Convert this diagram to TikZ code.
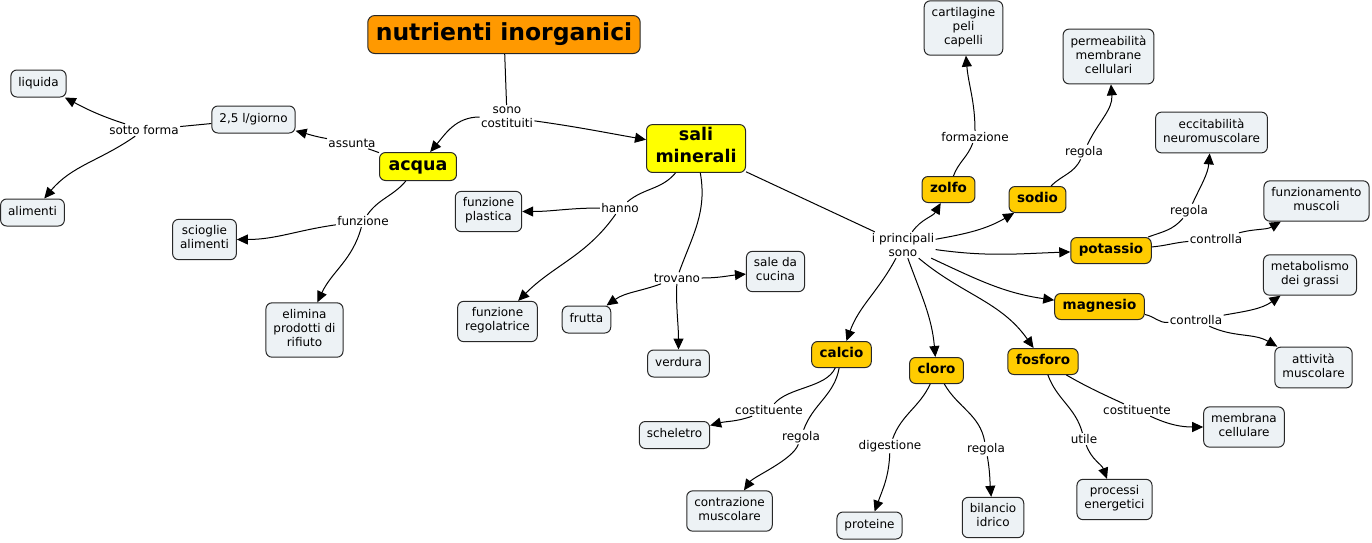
\documentclass[tikz,border=0pt]{standalone}
\usepackage{fontspec}
\setmainfont{DejaVu Sans}
\usetikzlibrary{arrows.meta}
\definecolor{titleColor}{RGB}{255,153,0}
\definecolor{mainColor}{RGB}{255,255,0}
\definecolor{elementColor}{RGB}{255,204,0}
\definecolor{conceptColor}{RGB}{237,242,245}
\definecolor{borderColor}{RGB}{40,40,40}
\tikzstyle{mapStyle} = [x = 1pt, y = 1pt, line width = 1pt]
\tikzstyle{boxStyle} = [draw=borderColor, line width=1pt, align=center, execute at begin node=\strut, execute at end node=\strut]
\tikzstyle{titleStyle} = [boxStyle, fill=titleColor, rounded corners=7pt, font=\fontsize{23.5}{28}\selectfont\bfseries, inner xsep=8pt, inner ysep=5pt]
\tikzstyle{mainStyle} = [boxStyle, fill=mainColor, rounded corners=6pt, font=\fontsize{17.5}{22}\selectfont\bfseries, inner xsep=9pt, inner ysep=3pt]
\tikzstyle{elementStyle} = [boxStyle, fill=elementColor, rounded corners=6pt, font=\fontsize{13.5}{15}\selectfont\bfseries, inner xsep=8pt, inner ysep=5.5pt]
\tikzstyle{conceptStyle} = [boxStyle, fill=conceptColor, rounded corners=6pt, font=\fontsize{12}{14}\selectfont, inner xsep=7.5pt, inner ysep=6.5pt]
\tikzstyle{linkText} = [align=center, font=\fontsize{12}{14}\selectfont, inner sep=1pt]
\tikzstyle{linkLine} = [draw=black, line width=1pt]
\tikzstyle{linkArrow} = [linkLine, -{Triangle[length=11pt, width=10pt]}]
\begin{document}
\begin{tikzpicture}[mapStyle]
    \useasboundingbox (0,0) rectangle (1372,-542);
    % concepts
    \node [titleStyle] (nutrienti) at (504,-34.5) {nutrienti inorganici};
    \node [mainStyle] (acqua) at (418,-166.5) {acqua};
    \node [mainStyle] (sali) at (696,-148.5) {sali\\minerali};
    \node [conceptStyle] (liquida) at (38.5,-83.5) {liquida};
    \node [conceptStyle] (giorno) at (253.5,-119.5) {2,5 l/giorno};
    \node [conceptStyle] (alimenti) at (32.5,-212.5) {alimenti};
    \node [conceptStyle] (scioglie) at (204.5,-239.5) {scioglie\\alimenti};
    \node [conceptStyle] (elimina) at (304.5,-330) {elimina\\prodotti di\\rifiuto};
    \node [conceptStyle] (plastica) at (488.5,-211.5) {funzione\\plastica};
    \node [conceptStyle] (regolatrice) at (497.5,-321.5) {funzione\\regolatrice};
    \node [conceptStyle] (frutta) at (586.5,-319.5) {frutta};
    \node [conceptStyle] (saleCucina) at (775.5,-271.5) {sale da\\cucina};
    \node [conceptStyle] (verdura) at (678.5,-363.5) {verdura};
    \node [conceptStyle] (cartilagine) at (963.5,-28) {cartilagine\\peli\\capelli};
    \node [conceptStyle] (permeabilita) at (1108.5,-56.5) {permeabilità\\membrane\\cellulari};
    \node [conceptStyle] (eccitabilita) at (1211.5,-132.5) {eccitabilità\\neuromuscolare};
    \node [conceptStyle] (funzionamento) at (1316.5,-201) {funzionamento\\muscoli};
    \node [conceptStyle] (metabolismo) at (1310,-275) {metabolismo\\dei grassi};
    \node [conceptStyle] (attivita) at (1313.5,-367.5) {attività\\muscolare};
    \node [conceptStyle] (scheletro) at (674.5,-435) {scheletro};
    \node [conceptStyle] (contrazione) at (729.5,-511) {contrazione\\muscolare};
    \node [conceptStyle] (proteine) at (869.5,-525.5) {proteine};
    \node [conceptStyle] (bilancio) at (993,-517.5) {bilancio\\idrico};
    \node [conceptStyle] (processi) at (1114.5,-499.5) {processi\\energetici};
    \node [conceptStyle] (membrana) at (1244,-427) {membrana\\cellulare};
    % elements
    \node [elementStyle] (zolfo) at (948.5,-189.5) {zolfo};
    \node [elementStyle] (sodio) at (1037.5,-199.5) {sodio};
    \node [elementStyle] (potassio) at (1111,-250.5) {potassio};
    \node [elementStyle] (magnesio) at (1099.5,-306.5) {magnesio};
    \node [elementStyle] (calcio) at (841.5,-354.5) {calcio};
    \node [elementStyle] (cloro) at (936.5,-370.5) {cloro};
    \node [elementStyle] (fosforo) at (1043,-361.5) {fosforo};
    % link labels
    \node [linkText] (sonoCostituiti) at (507,-117) {sono\\costituiti};
    \node [linkText] (assunta) at (352,-143) {assunta};
    \node [linkText] (sottoForma) at (144,-130) {sotto forma};
    \node [linkText] (funzioneAcqua) at (363,-221) {funzione};
    \node [linkText] (hanno) at (620,-208) {hanno};
    \node [linkText] (trovano) at (677,-278) {trovano};
    \node [linkText] (principali) at (903,-245) {i principali\\sono};
    \node [linkText] (formazione) at (975,-137) {formazione};
    \node [linkText] (regolaSodio) at (1084,-152) {regola};
    \node [linkText] (regolaPotassio) at (1189,-211) {regola};
    \node [linkText] (controllaPotassio) at (1216,-239) {controlla};
    \node [linkText] (controllaMagnesio) at (1196,-320) {controlla};
    \node [linkText] (costituenteCalcio) at (769,-410) {costituente};
    \node [linkText] (regolaCalcio) at (801,-437) {regola};
    \node [linkText] (digestione) at (890,-446) {digestione};
    \node [linkText] (regolaCloro) at (986,-449) {regola};
    \node [linkText] (utile) at (1084,-439) {utile};
    \node [linkText] (costituenteFosforo) at (1137,-410) {costituente};
    % connectors
    \draw [linkLine] (nutrienti) -- (sonoCostituiti);
    \draw [linkArrow] (sonoCostituiti) to[out=180, in=50] (acqua);
    \draw [linkArrow] (sonoCostituiti) to[out=-8, in=170] (sali);
    \draw [linkLine] (acqua) -- (assunta);
    \draw [linkArrow] (assunta) to[out=170, in=-15] (giorno);
    \draw [linkLine] (giorno) -- (sottoForma);
    \draw [linkArrow] (sottoForma) to[out=162, in=-28] (liquida);
    \draw [linkArrow] (sottoForma) to[out=-145, in=50] (alimenti);
    \draw [linkLine] (acqua) to[out=-130, in=55] (funzioneAcqua);
    \draw [linkArrow] (funzioneAcqua) to[out=188, in=0] (scioglie);
    \draw [linkArrow] (funzioneAcqua) to[out=-105, in=65] (elimina);
    \draw [linkLine] (sali) to[out=-130, in=40] (hanno);
    \draw [linkArrow] (hanno) to[out=180, in=0] (plastica);
    \draw [linkArrow] (hanno) to[out=-125, in=45] (regolatrice);
    \draw [linkLine] (sali) to[out=-80, in=70] (trovano);
    \draw [linkArrow] (trovano) to[out=0, in=185] (saleCucina);
    \draw [linkArrow] (trovano) to[out=200, in=35] (frutta);
    \draw [linkArrow] (trovano) to[out=-92, in=90] (verdura);
    \draw [linkLine] (sali) -- (principali);
    \draw [linkArrow] (principali) to[out=55, in=-120] (zolfo);
    \draw [linkArrow] (principali) to[out=10, in=-150] (sodio);
    \draw [linkArrow] (principali) to[out=-8, in=182] (potassio);
    \draw [linkArrow] (principali) to[out=-25, in=172] (magnesio);
    \draw [linkArrow] (principali) to[out=-118, in=70] (calcio);
    \draw [linkArrow] (principali) to[out=-70, in=95] (cloro);
    \draw [linkArrow] (principali) to[out=-40, in=125] (fosforo);
    \draw [linkLine] (zolfo) to[out=70, in=-110] (formazione);
    \draw [linkArrow] (formazione) to[out=90, in=-85] (cartilagine);
    \draw [linkLine] (sodio) to[out=45, in=-115] (regolaSodio);
    \draw [linkArrow] (regolaSodio) to[out=65, in=-85] (permeabilita);
    \draw [linkLine] (potassio) to[out=20, in=-130] (regolaPotassio);
    \draw [linkArrow] (regolaPotassio) to[out=65, in=-95] (eccitabilita);
    \draw [linkLine] (potassio) to[out=5, in=185] (controllaPotassio);
    \draw [linkArrow] (controllaPotassio) to[out=15, in=-150] (funzionamento);
    \draw [linkLine] (magnesio) to[out=-10, in=185] (controllaMagnesio);
    \draw [linkArrow] (controllaMagnesio) to[out=10, in=-145] (metabolismo);
    \draw [linkArrow] (controllaMagnesio) to[out=-25, in=150] (attivita);
    \draw [linkLine] (calcio) to[out=-115, in=50, looseness=0.8] (costituenteCalcio);
    \draw [linkArrow] (costituenteCalcio) to[out=200, in=15] (scheletro);
    \draw [linkLine] (calcio) to[out=-100, in=70] (regolaCalcio);
    \draw [linkArrow] (regolaCalcio) to[out=-110, in=55, looseness=0.6] (contrazione);
    \draw [linkLine] (cloro) to[out=-115, in=70] (digestione);
    \draw [linkArrow] (digestione) to[out=-92, in=70] (proteine);
    \draw [linkLine] (cloro) to[out=-60, in=100] (regolaCloro);
    \draw [linkArrow] (regolaCloro) to[out=-80, in=95] (bilancio);
    \draw [linkLine] (fosforo) to[out=-70, in=105] (utile);
    \draw [linkArrow] (utile) to[out=-70, in=110] (processi);
    \draw [linkLine] (fosforo) to[out=-30, in=155] (costituenteFosforo);
    \draw [linkArrow] (costituenteFosforo) to[out=-25, in=180] (membrana);
\end{tikzpicture}
\end{document}
